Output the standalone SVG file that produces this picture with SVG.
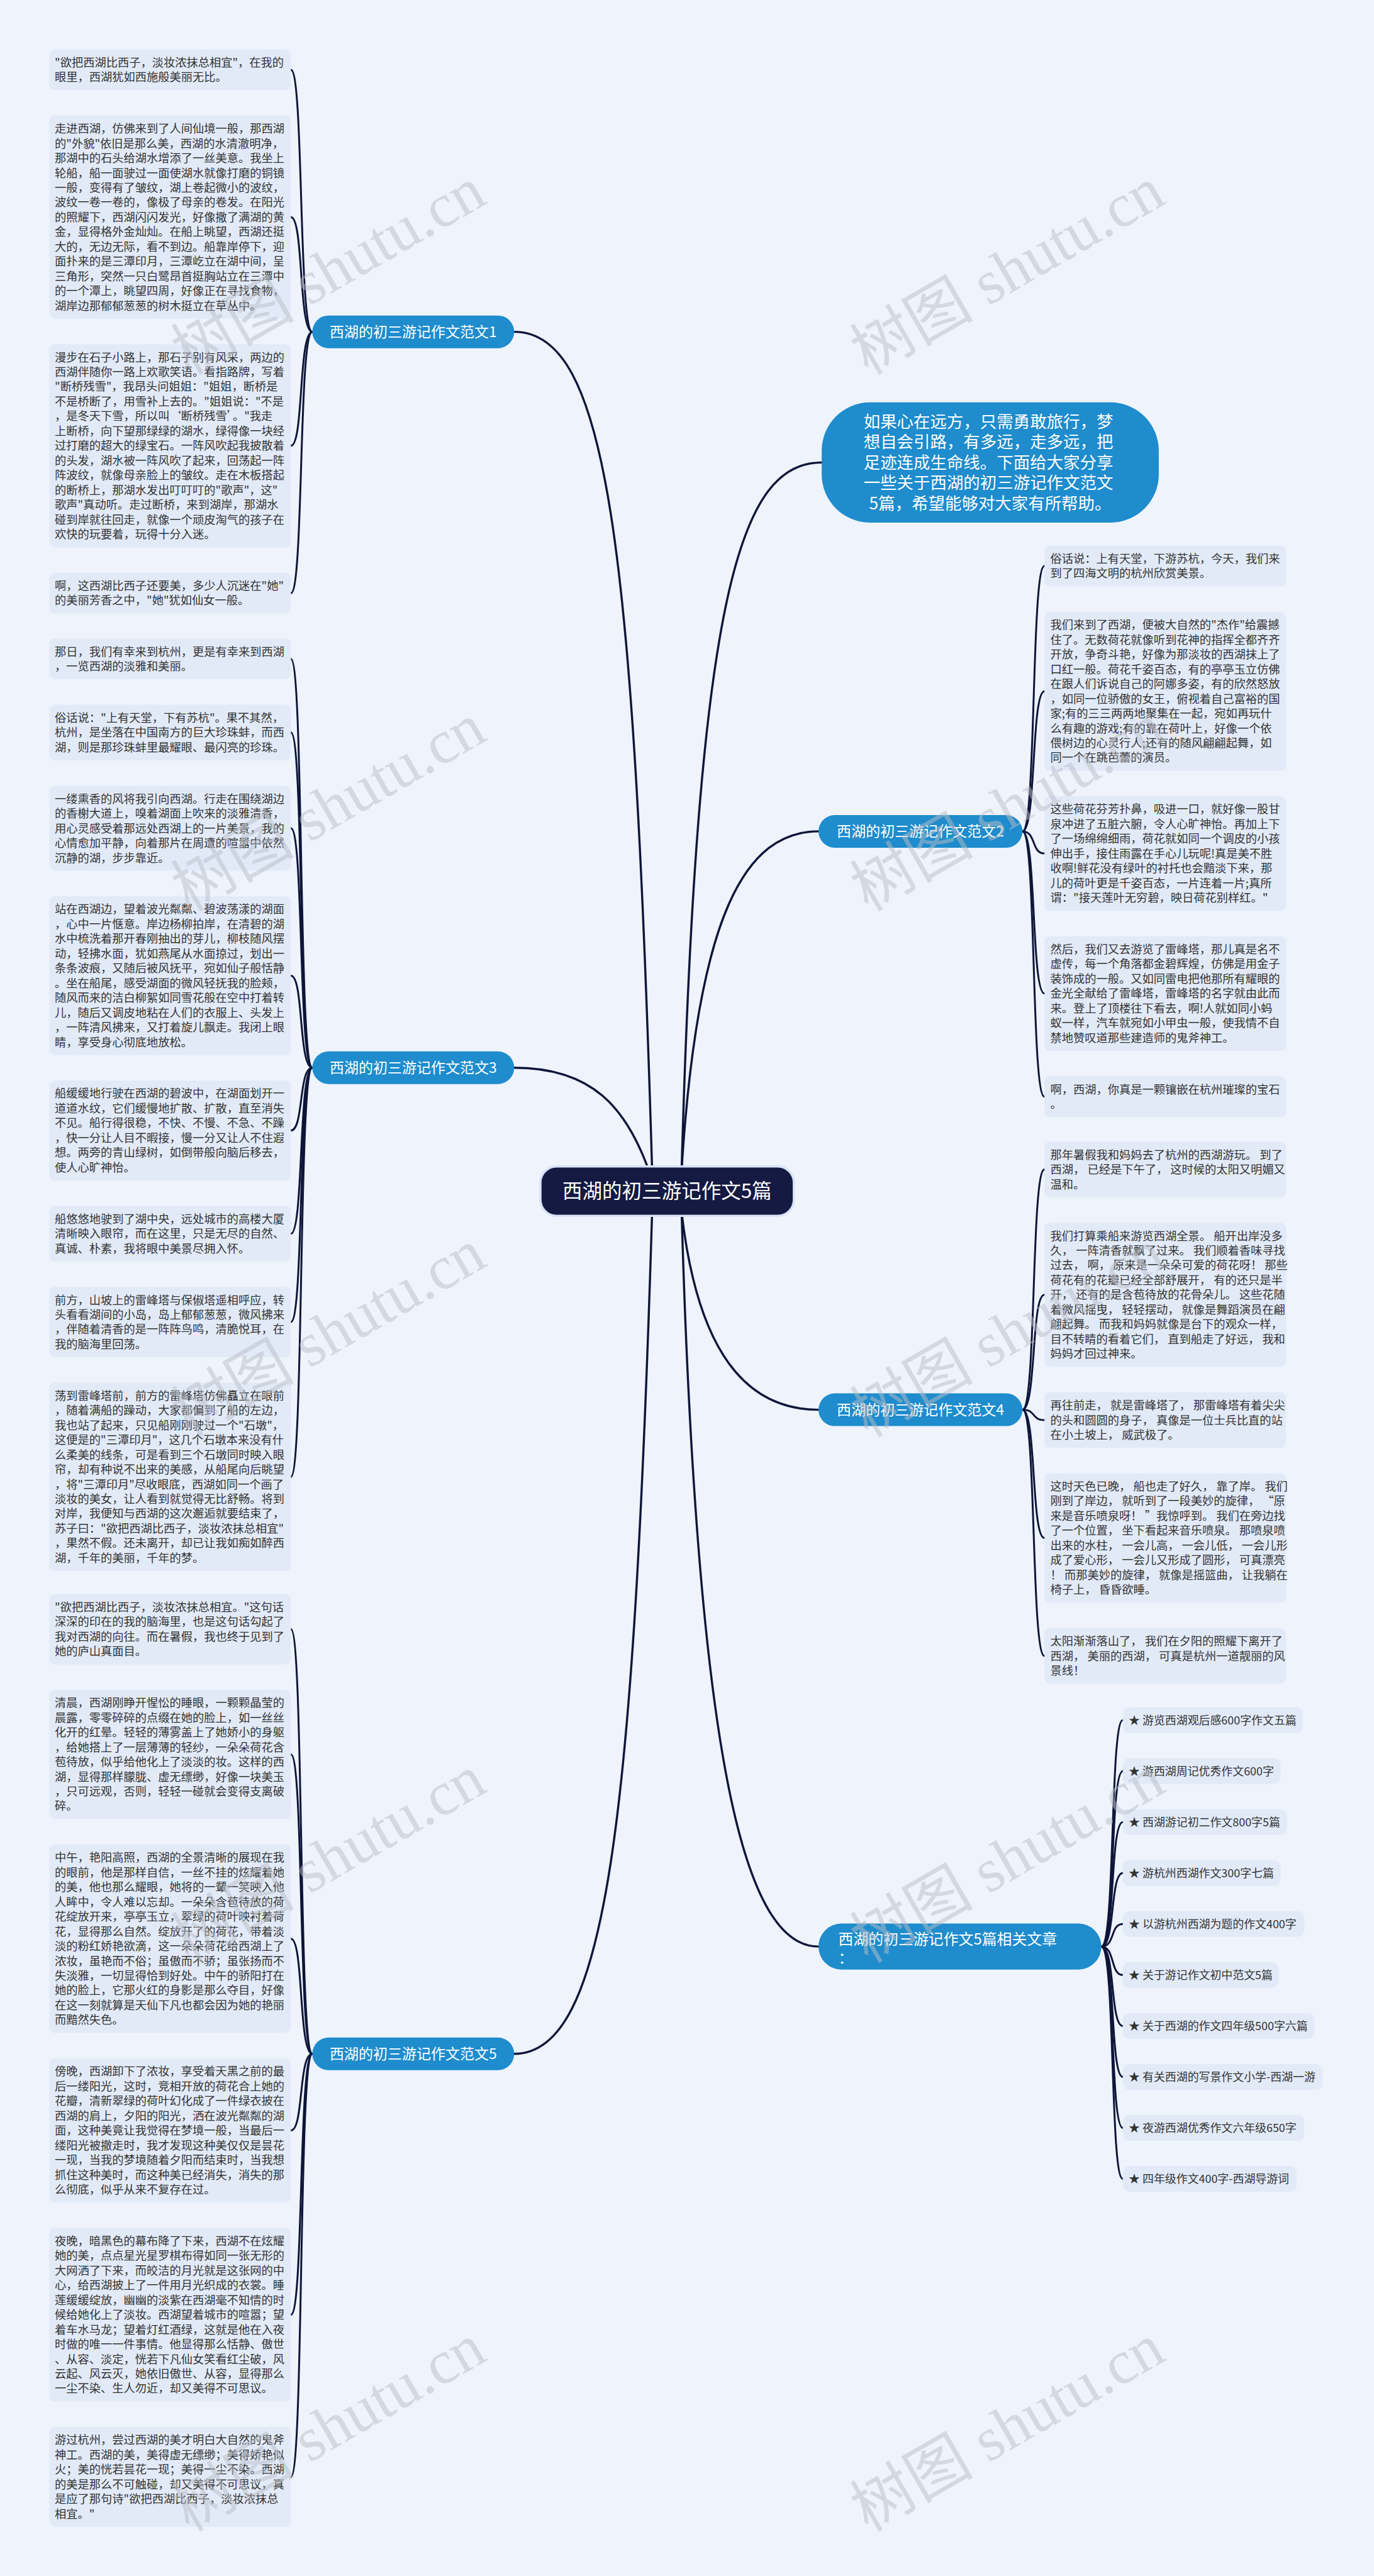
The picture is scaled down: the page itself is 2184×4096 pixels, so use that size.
<svg xmlns="http://www.w3.org/2000/svg" width="2184" height="4096" viewBox="0 0 2184 4096">
<style>
.lf{fill:#E2EAF8}
.t{font-family:"Noto Sans CJK SC","Noto Sans",sans-serif;font-size:21.4px;fill:#333333}
.rt{font-family:"Noto Sans CJK SC","Noto Sans",sans-serif;font-size:21px;fill:#333333}
.br{fill:#1E8CCD}
.bt{font-family:"Noto Sans CJK SC","Noto Sans",sans-serif;font-size:27px;fill:#ffffff;text-anchor:middle}
.ln{fill:none;stroke:#0E1539;stroke-width:3.5;stroke-linecap:round}
.cl{fill:none;stroke:#0E1539;stroke-width:4;stroke-linecap:round}
.wm{font-family:"Liberation Serif","Noto Sans CJK SC",serif;font-size:115px;fill:#b9bec6;fill-opacity:0.5}
</style>
<g transform="scale(0.853125)">
<rect x="0" y="0" width="2560" height="4801" fill="#EEF3FC"/>
<g id="connectors">
<path class="cl" d="M1215 2180C1180 1000 1130 618.5 958 618.5"/>
<path class="cl" d="M1215 2200C1170 2060 1100 1990 958 1990"/>
<path class="cl" d="M1215 2260C1180 3400 1130 3828 958 3828"/>
<path class="cl" d="M1270 2180C1300 1100 1380 862 1531 862"/>
<path class="cl" d="M1270 2180C1300 1700 1390 1549.5 1525 1549.5"/>
<path class="cl" d="M1270 2260C1300 2520 1390 2627.5 1525 2627.5"/>
<path class="cl" d="M1270 2260C1300 3300 1390 3628 1525 3628"/>
<path class="ln" d="M582 618.5C556 618.5 566 130 542 130"/>
<path class="ln" d="M582 618.5C556 618.5 566 404.75 542 404.75"/>
<path class="ln" d="M582 618.5C556 618.5 566 830.75 542 830.75"/>
<path class="ln" d="M582 618.5C556 618.5 566 1105.5 542 1105.5"/>
<path class="ln" d="M582 1990C556 1990 566 1228 542 1228"/>
<path class="ln" d="M582 1990C556 1990 566 1365.25 542 1365.25"/>
<path class="ln" d="M582 1990C556 1990 566 1543.75 542 1543.75"/>
<path class="ln" d="M582 1990C556 1990 566 1818.5 542 1818.5"/>
<path class="ln" d="M582 1990C556 1990 566 2107 542 2107"/>
<path class="ln" d="M582 1990C556 1990 566 2299.25 542 2299.25"/>
<path class="ln" d="M582 1990C556 1990 566 2464 542 2464"/>
<path class="ln" d="M582 1990C556 1990 566 2752.5 542 2752.5"/>
<path class="ln" d="M582 3828C556 3828 566 3036.5 542 3036.5"/>
<path class="ln" d="M582 3828C556 3828 566 3270 542 3270"/>
<path class="ln" d="M582 3828C556 3828 566 3613.5 542 3613.5"/>
<path class="ln" d="M582 3828C556 3828 566 3970.75 542 3970.75"/>
<path class="ln" d="M582 3828C556 3828 566 4314.25 542 4314.25"/>
<path class="ln" d="M582 3828C556 3828 566 4616.5 542 4616.5"/>
<path class="ln" d="M1905 1549.5C1931 1549.5 1921 1055 1946 1055"/>
<path class="ln" d="M1905 1549.5C1931 1549.5 1921 1288.5 1946 1288.5"/>
<path class="ln" d="M1905 1549.5C1931 1549.5 1921 1590.75 1946 1590.75"/>
<path class="ln" d="M1905 1549.5C1931 1549.5 1921 1851.75 1946 1851.75"/>
<path class="ln" d="M1905 1549.5C1931 1549.5 1921 2044 1946 2044"/>
<path class="ln" d="M1905 2627.5C1931 2627.5 1921 2179.75 1946 2179.75"/>
<path class="ln" d="M1905 2627.5C1931 2627.5 1921 2413.25 1946 2413.25"/>
<path class="ln" d="M1905 2627.5C1931 2627.5 1921 2646.75 1946 2646.75"/>
<path class="ln" d="M1905 2627.5C1931 2627.5 1921 2866.5 1946 2866.5"/>
<path class="ln" d="M1905 2627.5C1931 2627.5 1921 3086.25 1946 3086.25"/>
<path class="ln" d="M2052 3628C2078 3628 2068 3206 2092 3206"/>
<path class="ln" d="M2052 3628C2078 3628 2068 3301 2092 3301"/>
<path class="ln" d="M2052 3628C2078 3628 2068 3396 2092 3396"/>
<path class="ln" d="M2052 3628C2078 3628 2068 3491 2092 3491"/>
<path class="ln" d="M2052 3628C2078 3628 2068 3586 2092 3586"/>
<path class="ln" d="M2052 3628C2078 3628 2068 3681 2092 3681"/>
<path class="ln" d="M2052 3628C2078 3628 2068 3776 2092 3776"/>
<path class="ln" d="M2052 3628C2078 3628 2068 3871 2092 3871"/>
<path class="ln" d="M2052 3628C2078 3628 2068 3966 2092 3966"/>
<path class="ln" d="M2052 3628C2078 3628 2068 4061 2092 4061"/>
</g>
<g id="center">
<rect x="1007" y="2174" width="472" height="92" rx="30" fill="#141A42" stroke="#D6E2F6" stroke-width="4"/>
<text x="1243" y="2233" style="font-family:'Noto Sans CJK SC','Noto Sans',sans-serif;font-size:37px;fill:#fff;text-anchor:middle">西湖的初三游记作文5篇</text>
</g>
<g id="intro">
<rect x="1531" y="750" width="628" height="224" rx="90" class="br"/>
<text style="font-family:'Noto Sans CJK SC','Noto Sans',sans-serif;font-size:31px;fill:#fff;text-anchor:middle">
<tspan x="1845" y="797">如果心在远方，只需勇敢旅行，梦</tspan>
<tspan x="1845" y="835">想自会引路，有多远，走多远，把</tspan>
<tspan x="1845" y="873">足迹连成生命线。下面给大家分享</tspan>
<tspan x="1845" y="911">一些关于西湖的初三游记作文范文</tspan>
<tspan x="1845" y="949">5篇，希望能够对大家有所帮助。</tspan>
</text>
</g>
<g id="branch1"><rect x="582" y="588" width="376" height="61" rx="30.5" class="br"/><text class="bt" x="770" y="628">西湖的初三游记作文范文1</text></g>
<g id="branch3"><rect x="582" y="1959.5" width="376" height="61" rx="30.5" class="br"/><text class="bt" x="770" y="1999.5">西湖的初三游记作文范文3</text></g>
<g id="branch5"><rect x="582" y="3797.5" width="376" height="61" rx="30.5" class="br"/><text class="bt" x="770" y="3837.5">西湖的初三游记作文范文5</text></g>
<g id="branch2"><rect x="1525" y="1519" width="380" height="61" rx="30.5" class="br"/><text class="bt" x="1715" y="1559">西湖的初三游记作文范文2</text></g>
<g id="branch4"><rect x="1525" y="2597" width="380" height="61" rx="30.5" class="br"/><text class="bt" x="1715" y="2637">西湖的初三游记作文范文4</text></g>
<g id="related"><rect x="1525" y="3585" width="527" height="86" rx="43" class="br"/><text class="bt" style="text-anchor:start;font-size:28px"><tspan x="1562" y="3624">西湖的初三游记作文5篇相关文章</tspan><tspan x="1562" y="3660">：</tspan></text></g>

<g id="a1"><rect class="lf" x="92" y="92" width="450" height="76" rx="10"/><text class="t" y="124"><tspan x="102">"欲把西湖比西子，淡妆浓抹总相宜"，在我的</tspan><tspan x="102" dy="27.5">眼里，西湖犹如西施般美丽无比。</tspan></text></g>
<g id="a2"><rect class="lf" x="92" y="215.5" width="450" height="378.5" rx="10"/><text class="t" y="247.5"><tspan x="102">走进西湖，仿佛来到了人间仙境一般，那西湖</tspan><tspan x="102" dy="27.5">的"外貌"依旧是那么美，西湖的水清澈明净，</tspan><tspan x="102" dy="27.5">那湖中的石头给湖水增添了一丝美意。我坐上</tspan><tspan x="102" dy="27.5">轮船，船一面驶过一面使湖水就像打磨的铜镜</tspan><tspan x="102" dy="27.5">一般，变得有了皱纹，湖上卷起微小的波纹，</tspan><tspan x="102" dy="27.5">波纹一卷一卷的，像极了母亲的卷发。在阳光</tspan><tspan x="102" dy="27.5">的照耀下，西湖闪闪发光，好像撒了满湖的黄</tspan><tspan x="102" dy="27.5">金，显得格外金灿灿。在船上眺望，西湖还挺</tspan><tspan x="102" dy="27.5">大的，无边无际，看不到边。船靠岸停下，迎</tspan><tspan x="102" dy="27.5">面扑来的是三潭印月，三潭屹立在湖中间，呈</tspan><tspan x="102" dy="27.5">三角形，突然一只白鹭昂首挺胸站立在三潭中</tspan><tspan x="102" dy="27.5">的一个潭上，眺望四周，好像正在寻找食物，</tspan><tspan x="102" dy="27.5">湖岸边那郁郁葱葱的树木挺立在草丛中。</tspan></text></g>
<g id="a3"><rect class="lf" x="92" y="641.5" width="450" height="378.5" rx="10"/><text class="t" y="673.5"><tspan x="102">漫步在石子小路上，那石子别有风采，两边的</tspan><tspan x="102" dy="27.5">西湖伴随你一路上欢歌笑语。看指路牌，写着</tspan><tspan x="102" dy="27.5">"断桥残雪"，我昂头问姐姐："姐姐，断桥是</tspan><tspan x="102" dy="27.5">不是桥断了，用雪补上去的。"姐姐说："不是</tspan><tspan x="102" dy="27.5">，是冬天下雪，所以叫‘断桥残雪’。"我走</tspan><tspan x="102" dy="27.5">上断桥，向下望那绿绿的湖水，绿得像一块经</tspan><tspan x="102" dy="27.5">过打磨的超大的绿宝石。一阵风吹起我披散着</tspan><tspan x="102" dy="27.5">的头发，湖水被一阵风吹了起来，回荡起一阵</tspan><tspan x="102" dy="27.5">阵波纹，就像母亲脸上的皱纹。走在木板搭起</tspan><tspan x="102" dy="27.5">的断桥上，那湖水发出叮叮叮的"歌声"，这"</tspan><tspan x="102" dy="27.5">歌声"真动听。走过断桥，来到湖岸，那湖水</tspan><tspan x="102" dy="27.5">碰到岸就往回走，就像一个顽皮淘气的孩子在</tspan><tspan x="102" dy="27.5">欢快的玩要着，玩得十分入迷。</tspan></text></g>
<g id="a4"><rect class="lf" x="92" y="1067.5" width="450" height="76" rx="10"/><text class="t" y="1099.5"><tspan x="102">啊，这西湖比西子还要美，多少人沉迷在"她"</tspan><tspan x="102" dy="27.5">的美丽芳香之中，"她"犹如仙女一般。</tspan></text></g>

<g id="b1"><rect class="lf" x="92" y="1190" width="450" height="76" rx="10"/><text class="t" y="1222"><tspan x="102">那日，我们有幸来到杭州，更是有幸来到西湖</tspan><tspan x="102" dy="27.5">，一览西湖的淡雅和美丽。</tspan></text></g>
<g id="b2"><rect class="lf" x="92" y="1313.5" width="450" height="103.5" rx="10"/><text class="t" y="1345.5"><tspan x="102">俗话说："上有天堂，下有苏杭"。果不其然，</tspan><tspan x="102" dy="27.5">杭州，是坐落在中国南方的巨大珍珠蚌，而西</tspan><tspan x="102" dy="27.5">湖，则是那珍珠蚌里最耀眼、最闪亮的珍珠。</tspan></text></g>
<g id="b3"><rect class="lf" x="92" y="1464.5" width="450" height="158.5" rx="10"/><text class="t" y="1496.5"><tspan x="102">一缕熏香的风将我引向西湖。行走在围绕湖边</tspan><tspan x="102" dy="27.5">的香榭大道上，嗅着湖面上吹来的淡雅清香，</tspan><tspan x="102" dy="27.5">用心灵感受着那远处西湖上的一片美景，我的</tspan><tspan x="102" dy="27.5">心情愈加平静，向着那片在周遭的喧嚣中依然</tspan><tspan x="102" dy="27.5">沉静的湖，步步靠近。</tspan></text></g>
<g id="b4"><rect class="lf" x="92" y="1670.5" width="450" height="296" rx="10"/><text class="t" y="1702.5"><tspan x="102">站在西湖边，望着波光粼粼、碧波荡漾的湖面</tspan><tspan x="102" dy="27.5">，心中一片惬意。岸边杨柳拍岸，在清碧的湖</tspan><tspan x="102" dy="27.5">水中梳洗着那开春刚抽出的芽儿，柳枝随风摆</tspan><tspan x="102" dy="27.5">动，轻拂水面，犹如燕尾从水面掠过，划出一</tspan><tspan x="102" dy="27.5">条条波痕，又随后被风抚平，宛如仙子般恬静</tspan><tspan x="102" dy="27.5">。坐在船尾，感受湖面的微风轻抚我的脸颊，</tspan><tspan x="102" dy="27.5">随风而来的洁白柳絮如同雪花般在空中打着转</tspan><tspan x="102" dy="27.5">儿，随后又调皮地粘在人们的衣服上、头发上</tspan><tspan x="102" dy="27.5">，一阵清风拂来，又打着旋儿飘走。我闭上眼</tspan><tspan x="102" dy="27.5">睛，享受身心彻底地放松。</tspan></text></g>
<g id="b5"><rect class="lf" x="92" y="2014" width="450" height="186" rx="10"/><text class="t" y="2046"><tspan x="102">船缓缓地行驶在西湖的碧波中，在湖面划开一</tspan><tspan x="102" dy="27.5">道道水纹，它们缓慢地扩散、扩散，直至消失</tspan><tspan x="102" dy="27.5">不见。船行得很稳，不快、不慢、不急、不躁</tspan><tspan x="102" dy="27.5">，快一分让人目不暇接，慢一分又让人不住遐</tspan><tspan x="102" dy="27.5">想。两旁的青山绿树，如倒带般向脑后移去，</tspan><tspan x="102" dy="27.5">使人心旷神怡。</tspan></text></g>
<g id="b6"><rect class="lf" x="92" y="2247.5" width="450" height="103.5" rx="10"/><text class="t" y="2279.5"><tspan x="102">船悠悠地驶到了湖中央，远处城市的高楼大厦</tspan><tspan x="102" dy="27.5">清晰映入眼帘，而在这里，只是无尽的自然、</tspan><tspan x="102" dy="27.5">真诚、朴素，我将眼中美景尽拥入怀。</tspan></text></g>
<g id="b7"><rect class="lf" x="92" y="2398.5" width="450" height="131" rx="10"/><text class="t" y="2430.5"><tspan x="102">前方，山坡上的雷峰塔与保俶塔遥相呼应，转</tspan><tspan x="102" dy="27.5">头看看湖间的小岛，岛上郁郁葱葱，微风拂来</tspan><tspan x="102" dy="27.5">，伴随着清香的是一阵阵鸟鸣，清脆悦耳，在</tspan><tspan x="102" dy="27.5">我的脑海里回荡。</tspan></text></g>
<g id="b8"><rect class="lf" x="92" y="2577" width="450" height="351" rx="10"/><text class="t" y="2609"><tspan x="102">荡到雷峰塔前，前方的雷峰塔仿佛矗立在眼前</tspan><tspan x="102" dy="27.5">，随着满船的躁动，大家都偏到了船的左边，</tspan><tspan x="102" dy="27.5">我也站了起来，只见船刚刚驶过一个"石墩"，</tspan><tspan x="102" dy="27.5">这便是的"三潭印月"，这几个石墩本来没有什</tspan><tspan x="102" dy="27.5">么柔美的线条，可是看到三个石墩同时映入眼</tspan><tspan x="102" dy="27.5">帘，却有种说不出来的美感，从船尾向后眺望</tspan><tspan x="102" dy="27.5">，将"三潭印月"尽收眼底，西湖如同一个画了</tspan><tspan x="102" dy="27.5">淡妆的美女，让人看到就觉得无比舒畅。将到</tspan><tspan x="102" dy="27.5">对岸，我便知与西湖的这次邂逅就要结束了，</tspan><tspan x="102" dy="27.5">苏子曰："欲把西湖比西子，淡妆浓抹总相宜"</tspan><tspan x="102" dy="27.5">，果然不假。还未离开，却已让我如痴如醉西</tspan><tspan x="102" dy="27.5">湖，千年的美丽，千年的梦。</tspan></text></g>

<g id="c1"><rect class="lf" x="92" y="2971" width="450" height="131" rx="10"/><text class="t" y="3003"><tspan x="102">"欲把西湖比西子，淡妆浓抹总相宜。"这句话</tspan><tspan x="102" dy="27.5">深深的印在的我的脑海里，也是这句话勾起了</tspan><tspan x="102" dy="27.5">我对西湖的向往。而在暑假，我也终于见到了</tspan><tspan x="102" dy="27.5">她的庐山真面目。</tspan></text></g>
<g id="c2"><rect class="lf" x="92" y="3149.5" width="450" height="241" rx="10"/><text class="t" y="3181.5"><tspan x="102">清晨，西湖刚睁开惺忪的睡眼，一颗颗晶莹的</tspan><tspan x="102" dy="27.5">晨露，零零碎碎的点缀在她的脸上，如一丝丝</tspan><tspan x="102" dy="27.5">化开的红晕。轻轻的薄雾盖上了她娇小的身躯</tspan><tspan x="102" dy="27.5">，给她搭上了一层薄薄的轻纱，一朵朵荷花含</tspan><tspan x="102" dy="27.5">苞待放，似乎给他化上了淡淡的妆。这样的西</tspan><tspan x="102" dy="27.5">湖，显得那样朦胧、虚无缥缈，好像一块美玉</tspan><tspan x="102" dy="27.5">，只可远观，否则，轻轻一碰就会变得支离破</tspan><tspan x="102" dy="27.5">碎。</tspan></text></g>
<g id="c3"><rect class="lf" x="92" y="3438" width="450" height="351" rx="10"/><text class="t" y="3470"><tspan x="102">中午，艳阳高照，西湖的全景清晰的展现在我</tspan><tspan x="102" dy="27.5">的眼前，他是那样自信，一丝不挂的炫耀着她</tspan><tspan x="102" dy="27.5">的美，他也那么耀眼，她将的一颦一笑映入他</tspan><tspan x="102" dy="27.5">人眸中，令人难以忘却。一朵朵含苞待放的荷</tspan><tspan x="102" dy="27.5">花绽放开来，亭亭玉立，翠绿的荷叶映衬着荷</tspan><tspan x="102" dy="27.5">花，显得那么自然。绽放开了的荷花，带着淡</tspan><tspan x="102" dy="27.5">淡的粉红娇艳欲滴，这一朵朵荷花给西湖上了</tspan><tspan x="102" dy="27.5">浓妆，虽艳而不俗；虽傲而不骄；虽张扬而不</tspan><tspan x="102" dy="27.5">失淡雅，一切显得恰到好处。中午的骄阳打在</tspan><tspan x="102" dy="27.5">她的脸上，它那火红的身影是那么夺目，好像</tspan><tspan x="102" dy="27.5">在这一刻就算是天仙下凡也都会因为她的艳丽</tspan><tspan x="102" dy="27.5">而黯然失色。</tspan></text></g>
<g id="c4"><rect class="lf" x="92" y="3836.5" width="450" height="268.5" rx="10"/><text class="t" y="3868.5"><tspan x="102">傍晚，西湖卸下了浓妆，享受着天黑之前的最</tspan><tspan x="102" dy="27.5">后一缕阳光，这时，竞相开放的荷花合上她的</tspan><tspan x="102" dy="27.5">花瓣，清新翠绿的荷叶幻化成了一件绿衣披在</tspan><tspan x="102" dy="27.5">西湖的肩上，夕阳的阳光，洒在波光粼粼的湖</tspan><tspan x="102" dy="27.5">面，这种美竟让我觉得在梦境一般，当最后一</tspan><tspan x="102" dy="27.5">缕阳光被撤走时，我才发现这种美仅仅是昙花</tspan><tspan x="102" dy="27.5">一现，当我的梦境随着夕阳而结束时，当我想</tspan><tspan x="102" dy="27.5">抓住这种美时，而这种美已经消失，消失的那</tspan><tspan x="102" dy="27.5">么彻底，似乎从来不复存在过。</tspan></text></g>
<g id="c5"><rect class="lf" x="92" y="4152.5" width="450" height="323.5" rx="10"/><text class="t" y="4184.5"><tspan x="102">夜晚，暗黑色的幕布降了下来，西湖不在炫耀</tspan><tspan x="102" dy="27.5">她的美，点点星光星罗棋布得如同一张无形的</tspan><tspan x="102" dy="27.5">大网洒了下来，而皎洁的月光就是这张网的中</tspan><tspan x="102" dy="27.5">心，给西湖披上了一件用月光织成的衣裳。睡</tspan><tspan x="102" dy="27.5">莲缓缓绽放，幽幽的淡紫在西湖毫不知情的时</tspan><tspan x="102" dy="27.5">候给她化上了淡妆。西湖望着城市的喧嚣；望</tspan><tspan x="102" dy="27.5">着车水马龙；望着灯红酒绿，这就是他在入夜</tspan><tspan x="102" dy="27.5">时做的唯一一件事情。他显得那么恬静、傲世</tspan><tspan x="102" dy="27.5">、从容、淡定，恍若下凡仙女笑看红尘破，风</tspan><tspan x="102" dy="27.5">云起、风云灭，她依旧傲世、从容，显得那么</tspan><tspan x="102" dy="27.5">一尘不染、生人勿近，却又美得不可思议。</tspan></text></g>
<g id="c6"><rect class="lf" x="92" y="4523.5" width="450" height="186" rx="10"/><text class="t" y="4555.5"><tspan x="102">游过杭州，尝过西湖的美才明白大自然的鬼斧</tspan><tspan x="102" dy="27.5">神工。西湖的美，美得虚无缥缈；美得娇艳似</tspan><tspan x="102" dy="27.5">火；美的恍若昙花一现；美得一尘不染。西湖</tspan><tspan x="102" dy="27.5">的美是那么不可触碰，却又美得不可思议，真</tspan><tspan x="102" dy="27.5">是应了那句诗"欲把西湖比西子，淡妆浓抹总</tspan><tspan x="102" dy="27.5">相宜。"</tspan></text></g>

<g id="d1"><rect class="lf" x="1946" y="1017" width="450" height="76" rx="10"/><text class="t" y="1049"><tspan x="1957">俗话说：上有天堂，下游苏杭，今天，我们来</tspan><tspan x="1957" dy="27.5">到了四海文明的杭州欣赏美景。</tspan></text></g>
<g id="d2"><rect class="lf" x="1946" y="1140.5" width="450" height="296" rx="10"/><text class="t" y="1172.5"><tspan x="1957">我们来到了西湖，便被大自然的"杰作"给震撼</tspan><tspan x="1957" dy="27.5">住了。无数荷花就像听到花神的指挥全都齐齐</tspan><tspan x="1957" dy="27.5">开放，争奇斗艳，好像为那淡妆的西湖抹上了</tspan><tspan x="1957" dy="27.5">口红一般。荷花千姿百态，有的亭亭玉立仿佛</tspan><tspan x="1957" dy="27.5">在跟人们诉说自己的阿娜多姿，有的欣然怒放</tspan><tspan x="1957" dy="27.5">，如同一位骄傲的女王，俯视着自己富裕的国</tspan><tspan x="1957" dy="27.5">家;有的三三两两地聚集在一起，宛如再玩什</tspan><tspan x="1957" dy="27.5">么有趣的游戏;有的靠在荷叶上，好像一个依</tspan><tspan x="1957" dy="27.5">偎树边的心灵行人;还有的随风翩翩起舞，如</tspan><tspan x="1957" dy="27.5">同一个在跳芭蕾的演员。</tspan></text></g>
<g id="d3"><rect class="lf" x="1946" y="1484" width="450" height="213.5" rx="10"/><text class="t" y="1516"><tspan x="1957">这些荷花芬芳扑鼻，吸进一口，就好像一股甘</tspan><tspan x="1957" dy="27.5">泉冲进了五脏六腑，令人心旷神怡。再加上下</tspan><tspan x="1957" dy="27.5">了一场绵绵细雨，荷花就如同一个调皮的小孩</tspan><tspan x="1957" dy="27.5">伸出手，接住雨露在手心儿玩呢!真是美不胜</tspan><tspan x="1957" dy="27.5">收啊!鲜花没有绿叶的衬托也会黯淡下来，那</tspan><tspan x="1957" dy="27.5">儿的荷叶更是千姿百态，一片连着一片;真所</tspan><tspan x="1957" dy="27.5">谓："接天莲叶无穷碧，映日荷花别样红。"</tspan></text></g>
<g id="d4"><rect class="lf" x="1946" y="1745" width="450" height="213.5" rx="10"/><text class="t" y="1777"><tspan x="1957">然后，我们又去游览了雷峰塔，那儿真是名不</tspan><tspan x="1957" dy="27.5">虚传，每一个角落都金碧辉煌，仿佛是用金子</tspan><tspan x="1957" dy="27.5">装饰成的一般。又如同雷电把他那所有耀眼的</tspan><tspan x="1957" dy="27.5">金光全献给了雷峰塔，雷峰塔的名字就由此而</tspan><tspan x="1957" dy="27.5">来。登上了顶楼往下看去，啊!人就如同小蚂</tspan><tspan x="1957" dy="27.5">蚁一样，汽车就宛如小甲虫一般，使我情不自</tspan><tspan x="1957" dy="27.5">禁地赞叹道那些建造师的鬼斧神工。</tspan></text></g>
<g id="d5"><rect class="lf" x="1946" y="2006" width="450" height="76" rx="10"/><text class="t" y="2038"><tspan x="1957">啊，西湖，你真是一颗镶嵌在杭州璀璨的宝石</tspan><tspan x="1957" dy="27.5">。</tspan></text></g>

<g id="e1"><rect class="lf" x="1946" y="2128" width="450" height="103.5" rx="10"/><text class="t" y="2160"><tspan x="1957">那年暑假我和妈妈去了杭州的西湖游玩。 到了</tspan><tspan x="1957" dy="27.5">西湖， 已经是下午了， 这时候的太阳又明媚又</tspan><tspan x="1957" dy="27.5">温和。</tspan></text></g>
<g id="e2"><rect class="lf" x="1946" y="2279" width="450" height="268.5" rx="10"/><text class="t" y="2311"><tspan x="1957">我们打算乘船来游览西湖全景。 船开出岸没多</tspan><tspan x="1957" dy="27.5">久， 一阵清香就飘了过来。 我们顺着香味寻找</tspan><tspan x="1957" dy="27.5">过去， 啊， 原来是一朵朵可爱的荷花呀！ 那些</tspan><tspan x="1957" dy="27.5">荷花有的花瓣已经全部舒展开， 有的还只是半</tspan><tspan x="1957" dy="27.5">开， 还有的是含苞待放的花骨朵儿。 这些花随</tspan><tspan x="1957" dy="27.5">着微风摇曳， 轻轻摆动， 就像是舞蹈演员在翩</tspan><tspan x="1957" dy="27.5">翩起舞。 而我和妈妈就像是台下的观众一样，</tspan><tspan x="1957" dy="27.5">目不转睛的看着它们， 直到船走了好远， 我和</tspan><tspan x="1957" dy="27.5">妈妈才回过神来。</tspan></text></g>
<g id="e3"><rect class="lf" x="1946" y="2595" width="450" height="103.5" rx="10"/><text class="t" y="2627"><tspan x="1957">再往前走， 就是雷峰塔了， 那雷峰塔有着尖尖</tspan><tspan x="1957" dy="27.5">的头和圆圆的身子， 真像是一位士兵比直的站</tspan><tspan x="1957" dy="27.5">在小土坡上， 威武极了。</tspan></text></g>
<g id="e4"><rect class="lf" x="1946" y="2746" width="450" height="241" rx="10"/><text class="t" y="2778"><tspan x="1957">这时天色已晚， 船也走了好久， 靠了岸。 我们</tspan><tspan x="1957" dy="27.5">刚到了岸边， 就听到了一段美妙的旋律， “原</tspan><tspan x="1957" dy="27.5">来是音乐喷泉呀！ ”我惊呼到。 我们在旁边找</tspan><tspan x="1957" dy="27.5">了一个位置， 坐下看起来音乐喷泉。 那喷泉喷</tspan><tspan x="1957" dy="27.5">出来的水柱， 一会儿高， 一会儿低， 一会儿形</tspan><tspan x="1957" dy="27.5">成了爱心形， 一会儿又形成了圆形， 可真漂亮</tspan><tspan x="1957" dy="27.5">！ 而那美妙的旋律， 就像是摇篮曲， 让我躺在</tspan><tspan x="1957" dy="27.5">椅子上， 昏昏欲睡。</tspan></text></g>
<g id="e5"><rect class="lf" x="1946" y="3034.5" width="450" height="103.5" rx="10"/><text class="t" y="3066.5"><tspan x="1957">太阳渐渐落山了， 我们在夕阳的照耀下离开了</tspan><tspan x="1957" dy="27.5">西湖， 美丽的西湖， 可真是杭州一道靓丽的风</tspan><tspan x="1957" dy="27.5">景线！</tspan></text></g>

<g id="r1"><rect class="lf" x="2092" y="3182" width="335" height="48" rx="12"/><text class="rt" x="2103" y="3213.5">★ 游览西湖观后感600字作文五篇</text></g>
<g id="r2"><rect class="lf" x="2092" y="3277" width="294" height="48" rx="12"/><text class="rt" x="2103" y="3308.5">★ 游西湖周记优秀作文600字</text></g>
<g id="r3"><rect class="lf" x="2092" y="3372" width="306" height="48" rx="12"/><text class="rt" x="2103" y="3403.5">★ 西湖游记初二作文800字5篇</text></g>
<g id="r4"><rect class="lf" x="2092" y="3467" width="294" height="48" rx="12"/><text class="rt" x="2103" y="3498.5">★ 游杭州西湖作文300字七篇</text></g>
<g id="r5"><rect class="lf" x="2092" y="3562" width="338" height="48" rx="12"/><text class="rt" x="2103" y="3593.5">★ 以游杭州西湖为题的作文400字</text></g>
<g id="r6"><rect class="lf" x="2092" y="3657" width="290" height="48" rx="12"/><text class="rt" x="2103" y="3688.5">★ 关于游记作文初中范文5篇</text></g>
<g id="r7"><rect class="lf" x="2092" y="3752" width="357" height="48" rx="12"/><text class="rt" x="2103" y="3783.5">★ 关于西湖的作文四年级500字六篇</text></g>
<g id="r8"><rect class="lf" x="2092" y="3847" width="372" height="48" rx="12"/><text class="rt" x="2103" y="3878.5">★ 有关西湖的写景作文小学-西湖一游</text></g>
<g id="r9"><rect class="lf" x="2092" y="3942" width="338" height="48" rx="12"/><text class="rt" x="2103" y="3973.5">★ 夜游西湖优秀作文六年级650字</text></g>
<g id="r10"><rect class="lf" x="2092" y="4037" width="324" height="48" rx="12"/><text class="rt" x="2103" y="4068.5">★ 四年级作文400字-西湖导游词</text></g>

<g id="watermarks">
<text class="wm" transform="translate(352 700) rotate(-30)">树图 shutu.cn</text>
<text class="wm" transform="translate(352 1700) rotate(-30)">树图 shutu.cn</text>
<text class="wm" transform="translate(352 2680) rotate(-30)">树图 shutu.cn</text>
<text class="wm" transform="translate(352 3660) rotate(-30)">树图 shutu.cn</text>
<text class="wm" transform="translate(352 4720) rotate(-30)">树图 shutu.cn</text>
<text class="wm" transform="translate(1617 700) rotate(-30)">树图 shutu.cn</text>
<text class="wm" transform="translate(1617 1700) rotate(-30)">树图 shutu.cn</text>
<text class="wm" transform="translate(1617 2680) rotate(-30)">树图 shutu.cn</text>
<text class="wm" transform="translate(1617 3660) rotate(-30)">树图 shutu.cn</text>
<text class="wm" transform="translate(1617 4720) rotate(-30)">树图 shutu.cn</text>
</g>
</g>
</svg>
